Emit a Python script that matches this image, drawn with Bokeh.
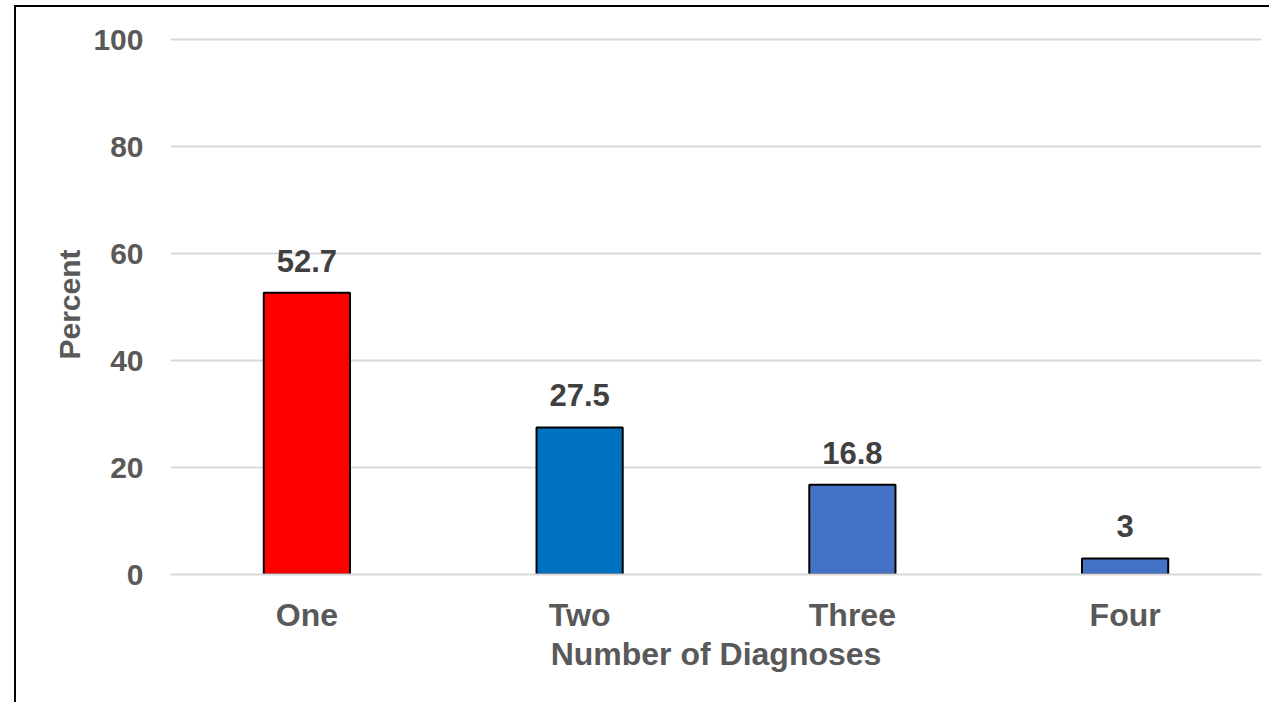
from bokeh.plotting import figure
from bokeh.models import ColumnDataSource, FixedTicker, Range1d, LabelSet
from bokeh.core.properties import value
from bokeh.embed import file_html
from bokeh.resources import INLINE

categories = ["One", "Two", "Three", "Four"]
values = [52.7, 27.5, 16.8, 3]
labels = ["52.7", "27.5", "16.8", "3"]
colors = ["#FF0000", "#0070C0", "#4472C4", "#4472C4"]
y_ticks = [0, 20, 40, 60, 80, 100]

src = ColumnDataSource(dict(cat=categories, val=values, lab=labels, col=colors))

OX, OY = 16, 7
p = figure(x_range=categories, y_range=Range1d(0, 101), width=1271 - OX, height=704 - OY,
           output_backend="svg", toolbar_location=None,
           min_border_left=170 - OX, min_border_right=10, min_border_top=34 - OY,
           min_border_bottom=130)
p.outline_line_color = None
p.background_fill_color = "white"
p.border_fill_color = "white"
p.styles = {"border-left": "2px solid black", "border-top": "2px solid black",
            "margin-left": "14px", "margin-top": "5px"}

p.vbar(x="cat", top="val", width=0.316, source=src, fill_color="col",
       line_color="black", line_width=2)

lbl = LabelSet(x="cat", y="val", text="lab", source=src, text_align="center",
               text_baseline="alphabetic", y_offset=21, text_font=value("Liberation Sans"),
               text_font_style="bold", text_font_size="31px", text_color="#404040")
p.add_layout(lbl)

p.yaxis.ticker = FixedTicker(ticks=y_ticks)
p.ygrid.ticker = FixedTicker(ticks=y_ticks)
p.ygrid.grid_line_color = "#D9D9D9"
p.ygrid.grid_line_width = 2
p.xgrid.grid_line_color = None

for ax in (p.xaxis, p.yaxis):
    ax.major_tick_line_color = None
    ax.minor_tick_line_color = None
    ax.major_label_text_font = "Liberation Sans"
    ax.major_label_text_font_style = "bold"
    ax.major_label_text_color = "#595959"
    ax.axis_label_text_font = "Liberation Sans"
    ax.axis_label_text_font_style = "bold"
    ax.axis_label_text_color = "#595959"

p.yaxis.major_label_text_font_size = "30px"
p.yaxis.axis_label_text_font_size = "30px"
p.xaxis.major_label_text_font_size = "32px"
p.xaxis.axis_label_text_font_size = "32px"

p.yaxis.axis_line_color = None
p.xaxis.axis_line_color = "#D9D9D9"
p.xaxis.axis_line_width = 2
p.yaxis.major_label_standoff = 21
p.xaxis.major_label_standoff = 16
p.xaxis.axis_label = "Number of Diagnoses"
p.yaxis.axis_label = "Percent"
p.xaxis.axis_label_standoff = 0
p.yaxis.axis_label_standoff = 4

open("out.html", "w").write(file_html(p, INLINE))
